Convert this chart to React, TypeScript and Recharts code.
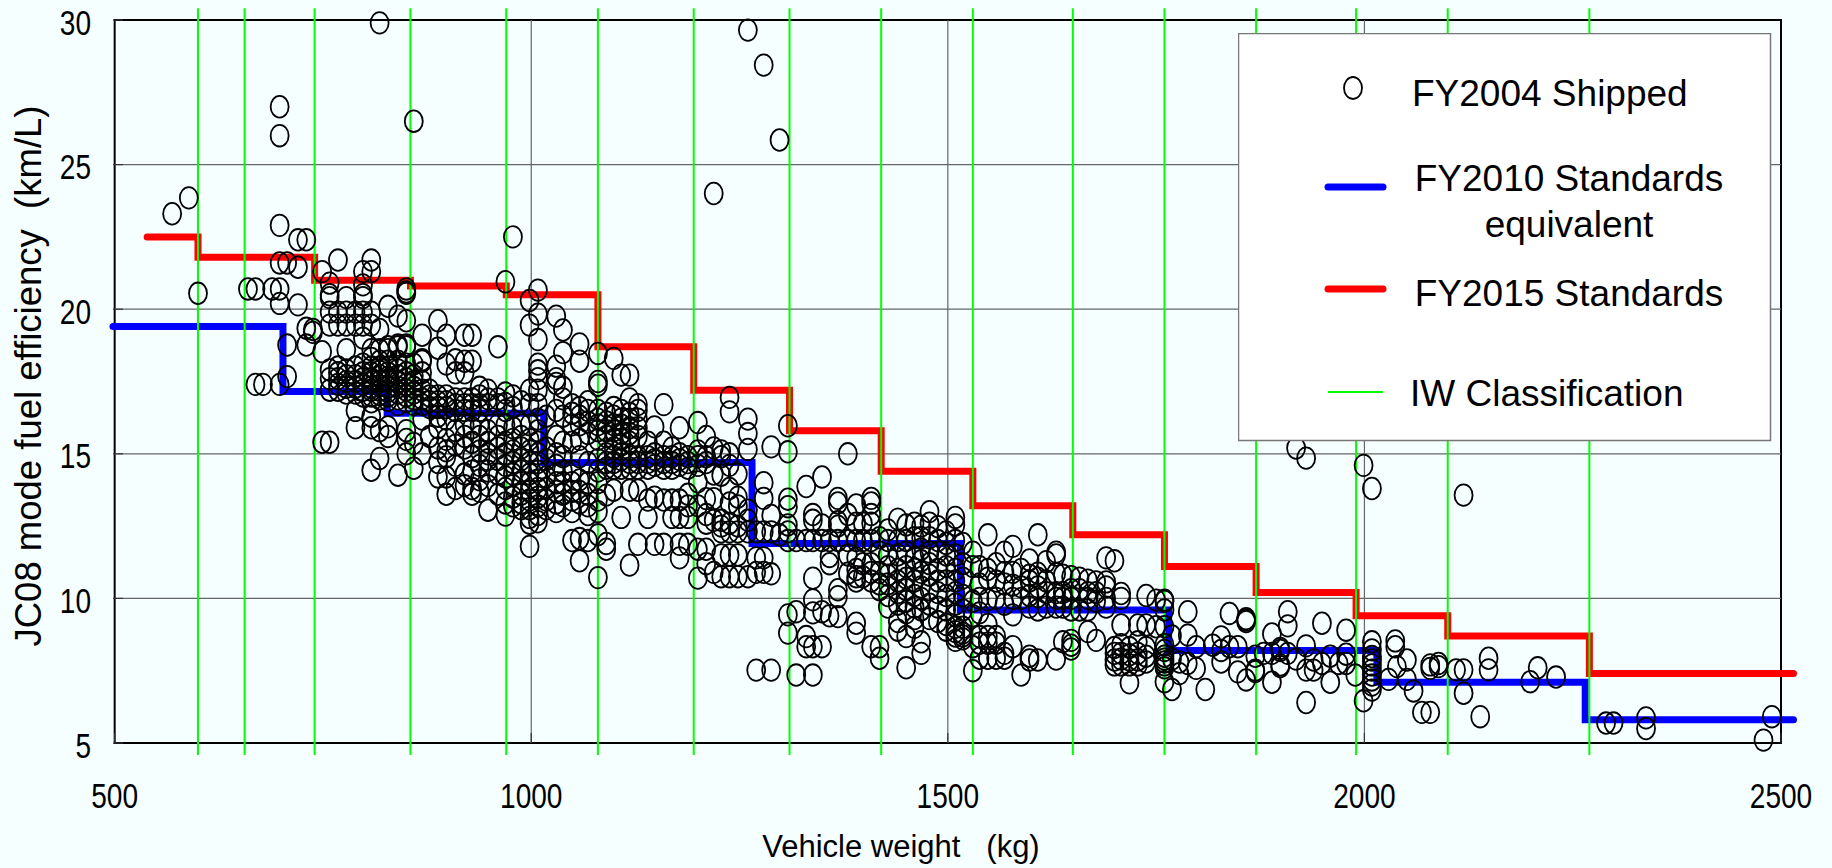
/**
 * Fuel efficiency vs vehicle weight, with the FY2010 / FY2015 standard steps.
 */

import {
  ComposedChart,
  Line,
  Scatter,
  XAxis,
  YAxis,
  Label,
  ReferenceLine,
  ReferenceArea,
  Legend,
} from 'recharts';

// ============================================================================
// Data
// ============================================================================

const X_TICKS = [500, 1000, 1500, 2000, 2500];
const Y_TICKS = [5, 10, 15, 20, 25, 30];
const X_GRID = [1000, 1500, 2000];
const Y_GRID = [10, 15, 20, 25];

// IW classification boundaries (kg)
const iwBoundaries = [600, 656, 740, 855, 970, 1080, 1195, 1310, 1420, 1530, 1650, 1760, 1870, 1990, 2100, 2270];

const fy2015Weights = [539, 600, 740, 855, 970, 1080, 1195, 1310, 1420, 1530, 1650, 1760, 1870, 1990, 2100, 2270, 2515];
const fy2015Values = [22.5, 21.8, 21.0, 20.8, 20.5, 18.7, 17.2, 15.8, 14.4, 13.2, 12.2, 11.1, 10.2, 9.4, 8.7, 7.4, 7.4];

const fy2010Weights = [498, 702, 827, 1015, 1265, 1515, 1765, 2015, 2265, 2515];
const fy2010Values = [19.4, 17.15, 16.4, 14.7, 11.9, 9.6, 8.2, 7.1, 5.8, 5.8];

// Shipped models: each row is [weight, ...efficiencies read at that weight]
const shippedUnder740 = [
  [569, 23.3], [589, 23.85], [600, 20.55], [660, 20.7], [669, 20.7, 17.4], [678, 17.4], [689, 20.7],
  [698, 27, 26, 22.9, 21.6, 20.7, 20.2, 17.4], [707, 21.6, 18.76, 17.67], [720, 22.4, 21.45, 20.15],
  [730, 22.4, 19.34, 18.76], [738, 19.3, 19.2],
];
const shipped740to855 = [
  [749, 21.3, 18.53, 15.4], [758, 20.9, 20.5, 20.4, 19.9, 19.45, 17.9, 17.6, 17.2, 15.4],
  [768, 21.7, 19.9, 19.45, 18.0, 17.8, 17.6, 17.4, 17.2],
  [778, 20.4, 19.9, 19.45, 18.6, 17.9, 17.7, 17.5, 17.3, 17.1],
  [789, 19.9, 19.45, 18.0, 17.7, 17.5, 17.3, 17.1, 16.5, 15.9],
  [798, 21.3, 20.84, 20.5, 20.4, 19.9, 19.45, 19.0, 18.1, 17.8, 17.6, 17.4, 17.2, 17.0],
  [808, 21.7, 21.3, 19.9, 19.45, 18.6, 18.3, 18.0, 17.8, 17.6, 17.5, 17.3, 17.2, 17.0, 16.8, 16.3, 15.9, 14.43],
  [818, 29.9, 19.3, 18.6, 18.2, 18.0, 17.85, 17.7, 17.5, 17.35, 17.2, 17.05, 16.9, 15.8, 14.84],
  [828, 20.1, 18.7, 18.6, 18.2, 18, 17.8, 17.65, 17.5, 17.3, 17.15, 17, 16.85, 15.93, 15.6],
  [840, 19.76, 18.76, 18.7, 18.2, 17.9, 17.7, 17.5, 17.3, 17.1, 16.9, 16.7, 14.26],
  [850, 20.7, 20.55, 20.6, 19.6, 18.76, 18.7, 18.1, 17.8, 17.6, 17.4, 17.2, 17, 16.8, 15.8, 15.5, 15],
];
const shipped855to970 = [
  [859, 26.5, 18.1, 17.7, 17.5, 17.3, 17.1, 16.9, 16.7, 15.36, 14.5],
  [869, 19.1, 18.25, 18.2, 17.8, 17.5, 17.2, 16.9, 16.7, 16.2, 15.0],
  [878, 17.2, 17.0, 16.8, 16.6, 15.6],
  [888, 19.6, 18.65, 17, 16.8, 16.6, 16.3, 15.9, 15.2, 14.7, 14.2],
  [898, 19.1, 18.1, 17, 16.8, 16.6, 16.2, 15.5, 15.1, 14.9, 14.2, 13.6],
  [909, 18.25, 17.8, 16.9, 16.7, 16.5, 15.8, 15.3, 14.6, 13.8],
  [920, 19.1, 18.2, 17.8, 16.9, 16.7, 16.5, 16, 15.6, 15.2, 14.3, 13.9],
  [929, 19.1, 18.2, 16.9, 16.7, 16.5, 15.9, 15.4, 14.9, 14.4, 13.8, 13.6],
  [938, 17.3, 17, 16.7, 16.5, 16, 15.6, 15.1, 14.6, 14.1, 13.7],
  [948, 17.2, 16.9, 16.7, 15.8, 15.4, 15, 14.8, 14.4, 13.9, 13.05],
  [960, 18.7, 16.9, 16.7, 16, 15.6, 15.2, 14.8, 14.3, 13.6],
];
const shipped970to1080 = [
  [969, 20.95, 17.1, 16.74, 16.5, 16, 15.4, 15, 14.6, 14.2, 13.8, 13.3, 12.88],
  [978, 22.5, 17, 16.6, 15.9, 15.5, 15.1, 14.7, 14.3, 13.9, 13.5, 13.2],
  [988, 16.8, 16, 15.6, 15.2, 14.8, 14.4, 14, 13.6, 13.3, 13.1],
  [998, 20.3, 19.45, 17.2, 16.7, 16, 15.5, 15.1, 14.7, 14.3, 14, 13.7, 13.4, 13.1, 12.8, 12.6, 11.8],
  [1008, 20.66, 19.83, 18.95, 18.1, 17.87, 17.6, 17.2, 16.7, 16.2, 15.8, 15.4, 15, 14.7, 14.4, 14.1, 13.8, 13.5, 13.2, 12.9, 12.65],
  [1018, 16.3, 15.2, 14.8, 14.2, 13.8, 13.4, 13.1],
  [1030, 19.76, 18.03, 17.6, 17.43, 16.5, 15.6, 15, 14.6, 14.3, 14, 13.7, 13.3, 13.0],
  [1038, 19.28, 18.5, 17.3, 16.9, 16.3, 15.4, 14.9, 14.4, 14, 13.6, 13.2],
  [1049, 16.7, 16.4, 16, 15.4, 14.4, 14, 13.7, 13.4, 13, 12],
  [1058, 18.8, 18.2, 16.6, 16.3, 16, 15.5, 14.9, 14.1, 13.7, 13.3, 12.07, 11.3],
  [1068, 16.8, 16.5, 16.1, 15.7, 14.7, 14, 13.6, 13.2, 12.9, 12],
];
const shipped1080to1195 = [
  [1080, 18.47, 17.5, 17.37, 16.5, 16.2, 16, 15.8, 15.5, 14.8, 14.4, 14, 13.4, 13, 12.2, 10.72],
  [1090, 16.4, 16.1, 15.8, 15.6, 15, 14.7, 14.5, 13.57, 11.9, 11.7],
  [1099, 18.3, 16.6, 16.3, 16, 15.8, 15.5, 15.2, 14.9, 14.7, 14.5, 13.74],
  [1108, 17.72, 16.5, 16.2, 16, 15.7, 15.5, 15.3, 15, 14.8, 14.5, 12.8],
  [1118, 17.72, 16.9, 16.4, 16.2, 15.9, 15.7, 15.4, 14.9, 14.7, 14.5, 13.74, 11.15],
  [1128, 16.7, 16.5, 16.2, 15.9, 15.6, 14.9, 14.7, 14.5, 13.74, 11.87],
  [1140, 15.4, 14.9, 14.7, 14.5, 13.4, 12.8],
  [1148, 15.93, 15, 14.8, 14.6, 13.5, 11.87],
  [1159, 16.7, 15.4, 14.9, 14.7, 14.5, 13.4, 11.87],
  [1169, 15.2, 14.9, 14.7, 14.5, 13.4, 12.8],
  [1178, 15.9, 15, 14.8, 14.6, 13.4, 12.8, 11.87, 11.4],
  [1188, 14.9, 14.7, 14.5, 13.6, 13.2, 12.8, 11.87],
];
const shipped1195to1310 = [
  [1200, 16.08, 15.1, 14.9, 14.6, 14.03, 13.2, 11.7, 10.7],
  [1210, 15.6, 14.9, 14.7, 13.45, 12.9, 12.6, 11.7, 11.2],
  [1219, 24, 15.2, 14.3, 13.45, 12.7, 10.9],
  [1228, 15.1, 14.9, 14.26, 12.7, 12.5, 12.3, 11.5, 10.75],
  [1238, 16.95, 16.45, 15, 14.6, 13.8, 13.3, 12.6, 12.3, 11.5, 10.75],
  [1248, 14.3, 13.5, 13.2, 12.5, 12.3, 11.5, 10.75],
  [1260, 29.65, 16.2, 15.7, 15.15, 13.05, 12.7, 12.3, 10.75],
  [1270, 12.3, 11.4, 10.9, 7.52],
  [1279, 28.44, 14, 13.46, 12.3, 11.4, 10.9],
  [1288, 15.24, 12.87, 12.3, 10.85, 7.52],
  [1298, 25.85, 12.2],
];
const shipped1310to1530 = [
  [1308, 15.97, 15.07, 13.43, 13.17, 12.54, 12.3, 12, 9.43, 8.8],
  [1318, 12, 9.54, 7.35],
  [1330, 13.87, 12, 8.68, 8.33],
  [1338, 12.9, 12.7, 12, 10.7, 9.95, 9.5, 8.33, 7.35],
  [1349, 14.2, 12.54, 12, 9.54, 8.33],
  [1358, 12, 11.45, 11.2, 9.4],
  [1368, 13.46, 13.3, 12.65, 12.5, 12, 10.3, 10.06, 9.37],
  [1380, 15, 12.9, 12, 11.5, 10.87],
  [1390, 13.23, 12.6, 12, 11.4, 11, 10.75, 10.6, 9.14, 8.8],
  [1398, 12.6, 12, 11.2, 10.75],
  [1408, 13.46, 13.3, 12.9, 12.6, 12, 11.2, 10.9, 10.6, 8.33],
  [1418, 12.1, 11.6, 10.9, 10.5, 10.3, 8.33, 7.93],
  [1428, 12.37, 12, 11.5, 11.1, 10.8, 10.5, 10.1, 9.7],
  [1440, 12.74, 12, 11.5, 11, 10.6, 10.2, 9.8, 9.2, 8.9],
  [1450, 12.54, 12, 11.6, 11.1, 10.7, 10.3, 9.9, 9.5, 8.68, 7.6],
  [1460, 12.6, 12.1, 11.4, 11, 10.6, 10.1, 9.7, 9.3, 9],
  [1468, 12.5, 12.1, 11.7, 11.3, 10.9, 10.4, 10, 9.6, 8.5, 8.1],
  [1478, 13, 12.6, 12.1, 11.6, 11.2, 10.8, 10.3, 9.8, 9.3],
  [1488, 12.48, 12, 11.6, 11, 10.6, 10.2, 9.7, 9.2],
  [1498, 12.3, 11.9, 11.5, 11.1, 10.6, 10.1, 9.6, 9.1, 8.9],
  [1509, 12.8, 12.54, 12, 11.5, 11, 10.6, 10.2, 9.8, 9.4, 9, 8.85, 8.7, 8.55],
  [1518, 11.9, 11.2, 10.7, 10.1, 9.6, 9, 8.8, 8.7, 8.6],
];
const shipped1530to1760 = [
  [1530, 11.6, 11.1, 9.9, 9.4, 8.33, 7.5],
  [1538, 11.1, 10.5, 10, 9.5, 8.68, 8.45, 7.93],
  [1548, 12.2, 11, 10.7, 9.95, 9.1, 8.68, 8.45, 7.93],
  [1558, 11.2, 10.6, 10, 8.68, 8.45, 7.93],
  [1568, 11.6, 10.9, 10.5, 9.8, 8.1, 7.93],
  [1578, 11.8, 10.9, 10.46, 10, 9.43, 8.33],
  [1588, 11, 10.4, 10, 7.35],
  [1598, 11.33, 10.8, 10.6, 10.1, 9.7, 8, 7.87],
  [1608, 12.2, 10.87, 10.7, 10.4, 10.06, 9.6, 7.87],
  [1618, 11.27, 10.6, 10.2, 9.7],
  [1630, 11.6, 11.5, 10.86, 10.2, 10, 9.7, 7.9],
  [1638, 10.8, 10.2, 10, 9.7, 8.5],
  [1648, 10.75, 10.3, 10, 9.6, 8.55, 8.38, 8.25],
  [1658, 10.7, 10.3, 9.6],
  [1668, 10.63, 10.2, 10, 9.6, 8.85],
  [1678, 10.57, 10.2, 9.9, 8.55],
  [1690, 11.4, 10.57, 10.4, 10, 9.7],
  [1700, 11.3, 8.3, 8.1, 7.87, 7.7],
  [1708, 10.17, 10, 9.08, 8.4, 8.1, 7.9, 7.7],
  [1718, 8.3, 8.05, 7.87, 7.7, 7.08],
  [1728, 9.08, 8.5, 8.1, 7.87, 7.7],
  [1738, 10.1, 9.08, 8.3, 8, 7.8],
  [1750, 9.94, 9.02],
];
const shippedOver1760 = [
  [1760, 9.94, 9.9, 9.6, 9.02, 8.4, 8.2, 8, 7.9, 7.8, 7.7, 7.6, 7.12],
  [1769, 8.7, 7.9, 6.85], [1778, 7.8, 7.4], [1788, 9.54, 8.73, 7.75], [1798, 8.33, 7.58], [1809, 6.85],
  [1818, 8.38], [1828, 8.67, 8.2, 7.8], [1838, 9.48, 8.33], [1848, 8.33, 7.46],
  [1858, 9.3, 9.25, 9.2, 7.18], [1869, 8, 7.52, 7.47], [1879, 8.1], [1889, 8.77, 8.1, 7.1],
  [1899, 8.27, 8.2, 7.7, 7.64], [1908, 9.54, 9.05, 8.1], [1918, 15.2, 7.9], [1930, 14.85, 8.36, 7.52, 6.4],
  [1939, 7.87, 7.52], [1949, 9.14, 7.75], [1959, 8, 7.1], [1969, 7.75], [1978, 8.9, 8.07, 7.75], [1989, 7.35],
  [1999, 14.6, 6.46], [2009, 13.8, 8.5, 8.22, 7.99, 7.87, 7.7, 7.52, 7.35, 7.18, 7, 6.83],
  [2029, 7.2], [2037, 8.53, 8.33], [2039, 7.64], [2051, 7.87, 7.2], [2059, 6.8], [2069, 6.06],
  [2079, 7.7, 7.58, 6.06], [2089, 7.75, 7.64], [2110, 7.53], [2119, 13.57, 7.53, 6.72], [2139, 5.91],
  [2149, 7.93, 7.53], [2199, 7.12], [2208, 7.6], [2230, 7.28], [2290, 5.69], [2299, 5.69],
  [2338, 5.87, 5.5], [2479, 5.1], [2489, 5.91],
];

const shippedRows = [
  shippedUnder740, shipped740to855, shipped855to970, shipped970to1080, shipped1080to1195,
  shipped1195to1310, shipped1310to1530, shipped1530to1760, shippedOver1760,
].flat();

const shippedPoints = shippedRows.flatMap(([weight, ...values]) =>
  values.map((efficiency) => ({ weight, efficiency }))
);

const stepTable = (weights: number[], values: number[]) =>
  weights.map((weight, i) => ({ weight, efficiency: values[i] }));

const fy2010Steps = stepTable(fy2010Weights, fy2010Values);
const fy2015Steps = stepTable(fy2015Weights, fy2015Values);

// ============================================================================
// Constants
// ============================================================================

const PAGE_BG = '#F5FFFF';
const FONT = '"Liberation Sans", Arial, sans-serif';
const GRID_COLOR = '#666';
// tick digits in the source are horizontally squeezed
const TICK_SQUEEZE = 0.78;

// ============================================================================
// Custom ticks, marker, legend
// ============================================================================

interface TickProps {
  x?: number;
  y?: number;
  payload?: { value: number };
}

function WeightTick({ x = 0, y = 0, payload }: TickProps) {
  return (
    <text
      transform={`translate(${x}, ${y + 30.5}) scale(${TICK_SQUEEZE}, 1)`}
      textAnchor="middle"
      fontFamily={FONT}
      fontSize={36}
      fill="#000"
    >
      {payload?.value}
    </text>
  );
}

function EfficiencyTick({ x = 0, y = 0, payload }: TickProps) {
  return (
    <text
      transform={`translate(${x}, ${y + 14.5}) scale(${TICK_SQUEEZE}, 1)`}
      textAnchor="end"
      fontFamily={FONT}
      fontSize={36}
      fill="#000"
    >
      {payload?.value}
    </text>
  );
}

function ShippedMarker({ cx, cy }: { cx?: number; cy?: number }) {
  return <ellipse cx={cx} cy={cy} rx={9} ry={10.8} fill="none" stroke="#000" strokeWidth={1.8} />;
}

function LegendBox() {
  const textStyle = { fontFamily: FONT, fontSize: 37, fill: '#000' };
  return (
    <svg width={534} height={409} style={{ display: 'block' }}>
      <rect x={0.5} y={0.5} width={532} height={407} fill="#fff" stroke="#777" strokeWidth={1.5} />
      <ellipse cx={115} cy={55} rx={9} ry={11} fill="none" stroke="#000" strokeWidth={1.8} />
      <text x={174} y={73} {...textStyle}>FY2004 Shipped</text>

      <line x1={90} x2={145} y1={154} y2={154} stroke="#0000FF" strokeWidth={7} strokeLinecap="round" />
      <text x={331} y={158} textAnchor="middle" {...textStyle}>FY2010 Standards</text>
      <text x={331} y={204} textAnchor="middle" {...textStyle}>equivalent</text>

      <line x1={90} x2={145} y1={256} y2={256} stroke="#FF0000" strokeWidth={7} strokeLinecap="round" />
      <text x={331} y={273} textAnchor="middle" {...textStyle}>FY2015 Standards</text>

      <line x1={90} x2={145} y1={359} y2={359} stroke="#00FF00" strokeWidth={2} />
      <text x={172} y={373} {...textStyle}>IW Classification</text>
    </svg>
  );
}

// ============================================================================
// Main Component
// ============================================================================

export default function App() {
  return (
    <div style={{ position: 'absolute', left: 0, top: 0, width: 1832, height: 868, background: PAGE_BG, overflow: 'hidden' }}>
      <ComposedChart
        width={1832}
        height={868}
        margin={{ top: 20, right: 38.5, left: 0, bottom: 0 }}
      >
        {/* domain is a little wider than the frame: the step lines overshoot it */}
        <XAxis
          type="number"
          dataKey="weight"
          domain={[498, 2515]}
          ticks={X_TICKS}
          interval={0}
          height={125}
          tickSize={-10}
          tickMargin={44}
          tick={<WeightTick />}
          axisLine={false}
          tickLine={{ stroke: '#333', strokeWidth: 1.2 }}
        >
          <Label
            content={() => (
              <text x={901} y={857} textAnchor="middle" fontFamily={FONT} fontSize={31} fill="#000">
                {'Vehicle weight\u00A0\u00A0\u00A0(kg)'}
              </text>
            )}
          />
        </XAxis>
        <YAxis
          type="number"
          dataKey="efficiency"
          domain={[5, 30]}
          ticks={Y_TICKS}
          interval={0}
          width={113}
          tickSize={-10}
          tickMargin={32}
          tick={<EfficiencyTick />}
          axisLine={false}
          tickLine={{ stroke: '#333', strokeWidth: 1.2 }}
        >
          <Label
            content={() => (
              <text
                transform="translate(41, 376) rotate(-90)"
                textAnchor="middle"
                fontFamily={FONT}
                fontSize={36.5}
                fill="#000"
              >
                {'JC08 mode fuel efficiency\u00A0\u00A0(km/L)'}
              </text>
            )}
          />
        </YAxis>
        {Y_GRID.map((value) => (
          <ReferenceLine
            key={value}
            segment={[{ x: 500, y: value }, { x: 2500, y: value }]}
            stroke={GRID_COLOR}
            strokeWidth={1.2}
          />
        ))}
        {X_GRID.map((value) => (
          <ReferenceLine
            key={value}
            segment={[{ x: value, y: 5 }, { x: value, y: 30 }]}
            stroke={GRID_COLOR}
            strokeWidth={1.2}
          />
        ))}
        <ReferenceArea x1={500} x2={2500} y1={5} y2={30} fill="none" stroke="#000" strokeWidth={2} ifOverflow="visible" />
        <Line
          data={fy2010Steps}
          dataKey="efficiency"
          type="stepAfter"
          stroke="#0000FF"
          strokeWidth={7}
          strokeLinecap="round"
          dot={false}
          legendType="none"
          isAnimationActive={false}
        />
        <Line
          data={fy2015Steps}
          dataKey="efficiency"
          type="stepAfter"
          stroke="#FF0000"
          strokeWidth={7}
          strokeLinecap="round"
          dot={false}
          legendType="none"
          isAnimationActive={false}
        />
        {iwBoundaries.map((weight) => (
          <ReferenceLine
            key={weight}
            segment={[{ x: weight, y: 4.585 }, { x: weight, y: 30.41 }]}
            stroke="#00FF00"
            strokeWidth={2}
            ifOverflow="visible"
          />
        ))}
        <Scatter
          data={shippedPoints}
          dataKey="efficiency"
          shape={<ShippedMarker />}
          legendType="none"
          isAnimationActive={false}
        />
        <Legend
          layout="vertical"
          align="center"
          verticalAlign="middle"
          content={<LegendBox />}
          wrapperStyle={{ left: 1238, top: 33, width: 534, height: 409 }}
        />
      </ComposedChart>
    </div>
  );
}
